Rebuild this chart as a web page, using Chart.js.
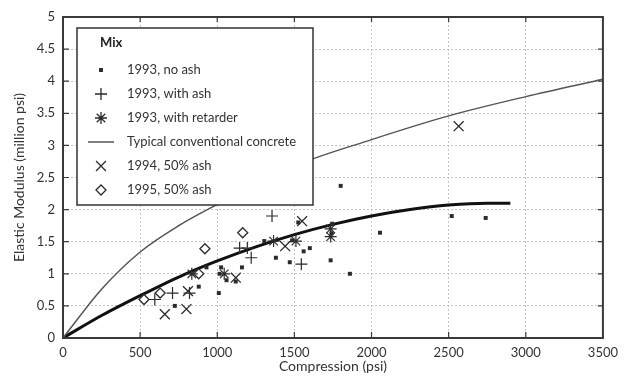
<!DOCTYPE html>
<html>
<head>
<meta charset="utf-8">
<script src="https://cdn.jsdelivr.net/npm/chart.js@4.4.1/dist/chart.umd.min.js"></script>
<style>
  html, body { margin: 0; padding: 0; background: #fff; }
  #wrap { width: 625px; height: 382px; }
</style>
</head>
<body>
<div id="wrap"><canvas id="chart"></canvas></div>
<script>
// values
const noAshX = [725, 880, 930, 1010, 1015, 1025, 1060, 1120, 1160, 1305, 1380, 1470, 1485, 1525, 1560, 1600, 1735, 1740, 1745, 1800, 1860, 2055, 2520, 2740];
const noAshY = [0.50, 0.80, 1.10, 0.70, 1.00, 1.10, 0.90, 0.88, 1.10, 1.51, 1.25, 1.18, 1.52, 1.80, 1.35, 1.40, 1.21, 1.63, 1.78, 2.37, 1.00, 1.64, 1.90, 1.87];

const withAshX = [595, 710, 820, 1145, 1195, 1220, 1355, 1545];
const withAshY = [0.60, 0.70, 0.70, 1.40, 1.40, 1.25, 1.90, 1.15];

const retarderX = [835, 1045, 1365, 1510, 1735, 1735];
const retarderY = [1.00, 1.00, 1.51, 1.51, 1.70, 1.58];

const ash94X = [660, 800, 810, 1120, 1440, 1550, 2565];
const ash94Y = [0.37, 0.45, 0.73, 0.94, 1.43, 1.82, 3.30];

const ash95X = [525, 630, 880, 920, 1165];
const ash95Y = [0.60, 0.70, 1.00, 1.39, 1.64];

// typical conventional concrete curve
const concX = [0, 250, 500, 750, 1000, 1500, 2000, 2500, 3000, 3500];
const concY = [0, 0.76, 1.34, 1.75, 2.08, 2.68, 3.09, 3.46, 3.76, 4.03];

// fitted curve through the test data
const fitX = [0, 250, 500, 750, 1000, 1250, 1500, 1750, 2000, 2250, 2500, 2750, 2900];
const fitY = [0, 0.35, 0.66, 0.95, 1.20, 1.42, 1.61, 1.77, 1.90, 2.00, 2.07, 2.10, 2.10];

const xTicks = [0, 500, 1000, 1500, 2000, 2500, 3000, 3500];
const yTicks = [0, 0.5, 1, 1.5, 2, 2.5, 3, 3.5, 4, 4.5, 5];

const ink = '#2b2b2b';
const pts = (xs, ys) => xs.map((x, i) => ({ x: x, y: ys[i] }));

Chart.defaults.font.family = 'Lato';
Chart.defaults.font.size = 13;
Chart.defaults.color = '#333';

// small canvases used as legend symbols
function mark(style, radius, w, h, fill) {
    const c = document.createElement('canvas');
    c.width = w; c.height = h;
    const g = c.getContext('2d');
    g.strokeStyle = ink;
    g.fillStyle = fill || ink;
    g.lineWidth = 1.3;
    if (style === 'line') {
        g.strokeStyle = '#555';
        g.lineWidth = 1.5;
        g.beginPath(); g.moveTo(0, h / 2); g.lineTo(w, h / 2); g.stroke();
    } else {
        Chart.helpers.drawPoint(g, { pointStyle: style, radius: radius, borderWidth: style === 'rect' ? 0 : 1.3 }, w / 2, h / 2);
    }
    return c;
}
const legendMarks = [
    mark('rect', 2.8, 8, 8),
    mark('cross', 6, 14, 14),
    mark('star', 6, 14, 14),
    mark('line', 0, 26, 4),
    mark('crossRot', 7, 14, 14),
    mark('rectRot', 5, 12, 12, '#fff')
];

const framePlugin = {
    id: 'frame',
    afterLayout(chart) {
        const a = chart.chartArea, lg = chart.legend;
        lg.left = a.left + 7.5;
        lg.right = lg.left + lg.width;
        lg.top = a.top + 35.5;
        lg.bottom = a.bottom;
    },
    afterDatasetsDraw(chart) {
        const { ctx, chartArea: a, scales: { x, y } } = chart;
        ctx.save();
        // legend box over the lines
        const bx = a.left + 14, by = a.top + 11;
        ctx.fillStyle = '#fff';
        ctx.fillRect(bx, by, 236, 177);
        ctx.strokeStyle = '#333';
        ctx.lineWidth = 1.5;
        ctx.strokeRect(bx, by, 236, 177);
        ctx.fillStyle = '#222';
        ctx.font = 'bold 13px Lato';
        ctx.textBaseline = 'middle';
        ctx.fillText('Mix', a.left + 37, a.top + 26);
        ctx.restore();
        chart.legend.draw();

        // frame and inner tick marks
        ctx.save();
        ctx.strokeStyle = '#3a3a3a';
        ctx.lineWidth = 1.2;
        ctx.beginPath();
        xTicks.forEach(v => {
            const px = x.getPixelForValue(v);
            ctx.moveTo(px, a.bottom); ctx.lineTo(px, a.bottom - 6);
            ctx.moveTo(px, a.top); ctx.lineTo(px, a.top + 5);
        });
        yTicks.forEach(v => {
            const py = y.getPixelForValue(v);
            ctx.moveTo(a.left, py); ctx.lineTo(a.left + 6, py);
            ctx.moveTo(a.right, py); ctx.lineTo(a.right - 5, py);
        });
        ctx.stroke();
        ctx.lineWidth = 2;
        ctx.strokeRect(a.left, a.top, a.right - a.left, a.bottom - a.top);
        ctx.restore();
    }
};

new Chart(document.getElementById('chart'), {
    type: 'scatter',
    data: {
        datasets: [
            { label: '1993, no ash', data: pts(noAshX, noAshY), pointStyle: 'rect', pointRadius: 2.8, backgroundColor: ink, borderColor: ink, borderWidth: 0 },
            { label: '1993, with ash', data: pts(withAshX, withAshY), pointStyle: 'cross', pointRadius: 6, borderColor: ink, borderWidth: 1.2 },
            { label: '1993, with retarder', data: pts(retarderX, retarderY), pointStyle: 'star', pointRadius: 6, borderColor: ink, borderWidth: 1.2 },
            { label: 'Typical conventional concrete', type: 'line', data: pts(concX, concY), pointRadius: 0, borderColor: '#555', borderWidth: 1.5, cubicInterpolationMode: 'monotone', fill: false },
            { label: '1994, 50% ash', data: pts(ash94X, ash94Y), pointStyle: 'crossRot', pointRadius: 7, borderColor: ink, borderWidth: 1.3 },
            { label: '1995, 50% ash', data: pts(ash95X, ash95Y), pointStyle: 'rectRot', pointRadius: 5, backgroundColor: '#fff', borderColor: ink, borderWidth: 1.3 },
            { label: 'fit', type: 'line', data: pts(fitX, fitY), pointRadius: 0, borderColor: '#111', borderWidth: 3, cubicInterpolationMode: 'monotone', fill: false }
        ]
    },
    options: {
        responsive: true,
        maintainAspectRatio: false,
        animation: false,
        layout: { padding: { left: 0, top: 17, right: 21, bottom: 0 } },
        plugins: {
            tooltip: { enabled: false },
            legend: {
                position: 'chartArea',
                align: 'start',
                labels: {
                    usePointStyle: true,
                    pointStyleWidth: 39,
                    padding: 11,
                    color: '#333',
                    font: { size: 13 },
                    filter: item => item.datasetIndex !== 6,
                    generateLabels: chart => Chart.defaults.plugins.legend.labels.generateLabels(chart)
                        .map(item => Object.assign(item, { pointStyle: legendMarks[item.datasetIndex] }))
                }
            }
        },
        scales: {
            x: {
                type: 'linear', min: 0, max: 3500,
                afterBuildTicks: s => { s.ticks = xTicks.map(v => ({ value: v })); },
                afterFit: s => { s.height = 44; },
                ticks: { callback: v => String(v), padding: 7, color: '#333' },
                grid: { color: '#c4c4c4', lineWidth: 1, drawTicks: false },
                border: { display: false, dash: [2, 2] },
                title: { display: true, text: 'Compression (psi)', color: '#333', font: { size: 14 }, padding: { top: 0, bottom: 7 } }
            },
            y: {
                type: 'linear', min: 0, max: 5,
                afterBuildTicks: s => { s.ticks = yTicks.map(v => ({ value: v })); },
                afterFit: s => { s.width = 63; },
                ticks: { callback: v => String(v), padding: 8, color: '#333' },
                grid: { color: '#c4c4c4', lineWidth: 1, drawTicks: false },
                border: { display: false, dash: [2, 2] },
                title: { display: true, text: 'Elastic Modulus (million psi)', color: '#333', font: { size: 14 }, padding: { top: 11, bottom: 0 } }
            }
        }
    },
    plugins: [framePlugin]
});
</script>
</body>
</html>
